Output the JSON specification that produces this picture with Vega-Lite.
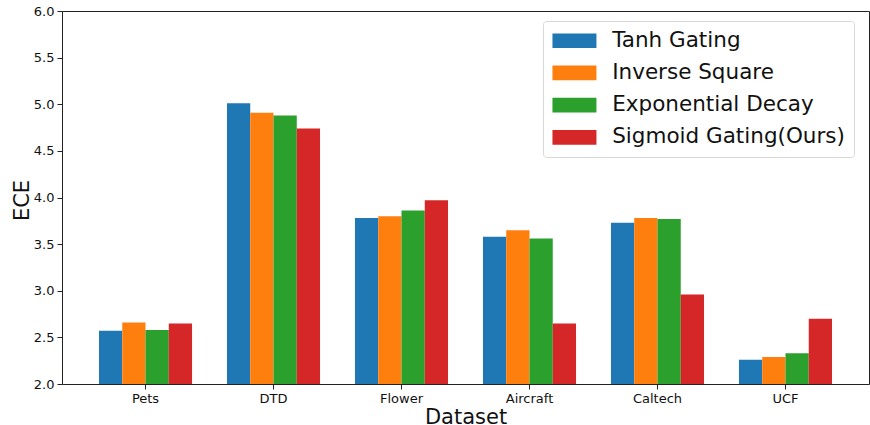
{
  "$schema": "https://vega.github.io/schema/vega-lite/v6.json",
  "width": 807,
  "height": 373,
  "autosize": {"type": "none"},
  "padding": {"left": 62, "top": 11, "right": 1, "bottom": 41},
  "background": "white",
  "config": {
    "font": "DejaVu Sans",
    "view": {"stroke": "#222", "strokeWidth": 1},
    "axis": {"grid": false, "domainColor": "#222", "tickColor": "#222", "labelColor": "#111", "titleColor": "#111", "labelFont": "DejaVu Sans", "titleFont": "DejaVu Sans", "titleFontWeight": "normal", "labelFontSize": 13, "titleFontSize": 21, "tickSize": 5}
  },
  "data": {
    "values": [
      {"dataset": "Pets", "method": "Tanh Gating", "ece": 2.57},
      {"dataset": "Pets", "method": "Inverse Square", "ece": 2.66},
      {"dataset": "Pets", "method": "Exponential Decay", "ece": 2.58},
      {"dataset": "Pets", "method": "Sigmoid Gating(Ours)", "ece": 2.65},
      {"dataset": "DTD", "method": "Tanh Gating", "ece": 5.01},
      {"dataset": "DTD", "method": "Inverse Square", "ece": 4.91},
      {"dataset": "DTD", "method": "Exponential Decay", "ece": 4.88},
      {"dataset": "DTD", "method": "Sigmoid Gating(Ours)", "ece": 4.74},
      {"dataset": "Flower", "method": "Tanh Gating", "ece": 3.78},
      {"dataset": "Flower", "method": "Inverse Square", "ece": 3.80},
      {"dataset": "Flower", "method": "Exponential Decay", "ece": 3.86},
      {"dataset": "Flower", "method": "Sigmoid Gating(Ours)", "ece": 3.97},
      {"dataset": "Aircraft", "method": "Tanh Gating", "ece": 3.58},
      {"dataset": "Aircraft", "method": "Inverse Square", "ece": 3.65},
      {"dataset": "Aircraft", "method": "Exponential Decay", "ece": 3.56},
      {"dataset": "Aircraft", "method": "Sigmoid Gating(Ours)", "ece": 2.65},
      {"dataset": "Caltech", "method": "Tanh Gating", "ece": 3.73},
      {"dataset": "Caltech", "method": "Inverse Square", "ece": 3.78},
      {"dataset": "Caltech", "method": "Exponential Decay", "ece": 3.77},
      {"dataset": "Caltech", "method": "Sigmoid Gating(Ours)", "ece": 2.96},
      {"dataset": "UCF", "method": "Tanh Gating", "ece": 2.26},
      {"dataset": "UCF", "method": "Inverse Square", "ece": 2.29},
      {"dataset": "UCF", "method": "Exponential Decay", "ece": 2.33},
      {"dataset": "UCF", "method": "Sigmoid Gating(Ours)", "ece": 2.70}
    ]
  },
  "mark": {"type": "bar", "clip": true},
  "encoding": {
    "x": {
      "field": "dataset", "type": "nominal",
      "sort": ["Pets", "DTD", "Flower", "Aircraft", "Caltech", "UCF"],
      "scale": {"paddingInner": 0.273, "paddingOuter": 0.289},
      "axis": {"title": "Dataset", "labelAngle": 0, "labelPadding": 3, "titleY": 39, "titleBaseline": "alphabetic", "domain": false}
    },
    "xOffset": {
      "field": "method", "type": "nominal",
      "sort": ["Tanh Gating", "Inverse Square", "Exponential Decay", "Sigmoid Gating(Ours)"],
      "scale": {"paddingInner": 0, "paddingOuter": 0}
    },
    "y": {
      "field": "ece", "type": "quantitative",
      "scale": {"domain": [2.0, 6.0], "zero": false, "nice": false},
      "axis": {"title": "ECE", "values": [2.0, 2.5, 3.0, 3.5, 4.0, 4.5, 5.0, 5.5, 6.0], "format": ".1f", "labelPadding": 3, "titleX": -34, "titleY": 189, "titleBaseline": "alphabetic", "domain": false}
    },
    "color": {
      "field": "method", "type": "nominal",
      "sort": ["Tanh Gating", "Inverse Square", "Exponential Decay", "Sigmoid Gating(Ours)"],
      "scale": {"domain": ["Tanh Gating", "Inverse Square", "Exponential Decay", "Sigmoid Gating(Ours)"], "range": ["#1f77b4", "#ff7f0e", "#2ca02c", "#d62728"]},
      "legend": {
        "title": null,
        "orient": "none",
        "legendX": 481,
        "legendY": 10,
        "symbolType": "M-3,-1H3V1H-3Z",
        "symbolSize": 215,
        "symbolOffset": 11.7,
        "symbolStrokeWidth": 0,
        "labelFontSize": 21.5,
        "labelFont": "DejaVu Sans",
        "labelColor": "#111",
        "labelOffset": 27,
        "labelLimit": 0,
        "rowPadding": 9.2,
        "padding": 9,
        "strokeColor": "#d8d8d8",
        "cornerRadius": 3,
        "fillColor": "white"
      }
    }
  }
}
